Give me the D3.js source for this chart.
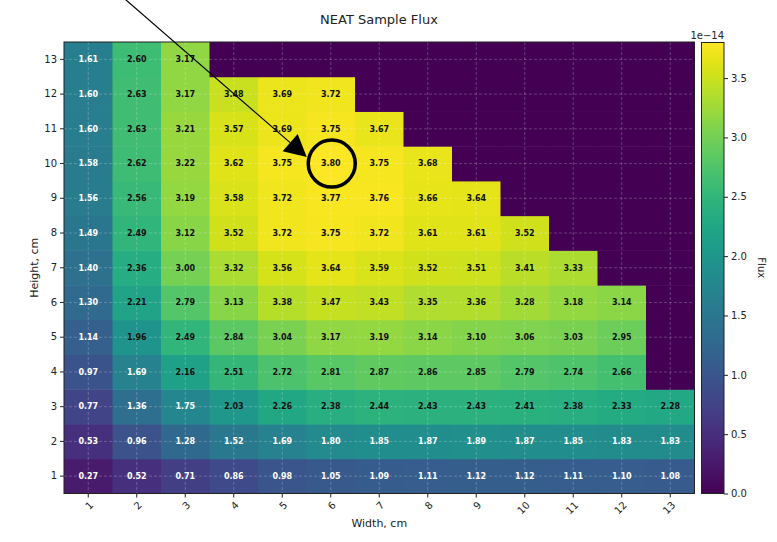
<!DOCTYPE html>
<html>
<head>
<meta charset="utf-8">
<script src="https://cdn.jsdelivr.net/npm/d3@7"></script>
<style>
  body { margin: 0; background: #fff; }
  text { font-family: "DejaVu Sans", sans-serif; }
</style>
</head>
<body>
<script>
// widths (columns) and heights (rows), cm
var widths = [1,2,3,4,5,6,7,8,9,10,11,12,13];
var heights = [1,2,3,4,5,6,7,8,9,10,11,12,13];

// flux values in units of 1e-14, one array per height (row), left to right by width
// missing cells (outside the sample) are left out of the row
var row1  = [0.27,0.52,0.71,0.86,0.98,1.05,1.09,1.11,1.12,1.12,1.11,1.10,1.08];
var row2  = [0.53,0.96,1.28,1.52,1.69,1.80,1.85,1.87,1.89,1.87,1.85,1.83,1.83];
var row3  = [0.77,1.36,1.75,2.03,2.26,2.38,2.44,2.43,2.43,2.41,2.38,2.33,2.28];
var row4  = [0.97,1.69,2.16,2.51,2.72,2.81,2.87,2.86,2.85,2.79,2.74,2.66];
var row5  = [1.14,1.96,2.49,2.84,3.04,3.17,3.19,3.14,3.10,3.06,3.03,2.95];
var row6  = [1.30,2.21,2.79,3.13,3.38,3.47,3.43,3.35,3.36,3.28,3.18,3.14];
var row7  = [1.40,2.36,3.00,3.32,3.56,3.64,3.59,3.52,3.51,3.41,3.33];
var row8  = [1.49,2.49,3.12,3.52,3.72,3.75,3.72,3.61,3.61,3.52];
var row9  = [1.56,2.56,3.19,3.58,3.72,3.77,3.76,3.66,3.64];
var row10 = [1.58,2.62,3.22,3.62,3.75,3.80,3.75,3.68];
var row11 = [1.60,2.63,3.21,3.57,3.69,3.75,3.67];
var row12 = [1.60,2.63,3.17,3.48,3.69,3.72];
var row13 = [1.61,2.60,3.17];
var rows = [row1,row2,row3,row4,row5,row6,row7,row8,row9,row10,row11,row12,row13];

var cbarTicks = [0.0,0.5,1.0,1.5,2.0,2.5,3.0,3.5];
var cbarMax = 3.80;
// highlighted cell (width, height)
var peak = {w: 6, h: 10};

var W = 777, H = 542;
var plot = {left: 64, right: 694.5, top: 42, bottom: 493.5};

var svg = d3.select("body").append("svg")
    .attr("width", W)
    .attr("height", H);

var xScale = d3.scaleBand().domain(widths).range([plot.left, plot.right]);
var yScale = d3.scaleBand().domain(heights.slice().reverse()).range([plot.top, plot.bottom]);
var color = d3.scaleSequential(d3.interpolateViridis).domain([0, cbarMax]);

// flatten into cells, empty ones get 0 (drawn as the bottom colour)
var cells = [];
heights.forEach(function(h, i) {
    widths.forEach(function(w, j) {
        var v = rows[i][j];
        cells.push({w: w, h: h, value: v === undefined ? 0 : v, empty: v === undefined});
    });
});

svg.selectAll(".cell")
    .data(cells)
    .enter()
    .append("rect")
    .attr("class", "cell")
    .attr("x", function(d) { return xScale(d.w); })
    .attr("y", function(d) { return yScale(d.h); })
    .attr("width", xScale.bandwidth() + 0.5)
    .attr("height", yScale.bandwidth() + 0.5)
    .attr("fill", function(d) { return color(d.value); });

// dashed grid at tick positions
var grid = svg.append("g").attr("class", "grid");
grid.selectAll(".gx")
    .data(widths)
    .enter()
    .append("line")
    .attr("x1", function(d) { return xScale(d) + xScale.bandwidth()/2; })
    .attr("x2", function(d) { return xScale(d) + xScale.bandwidth()/2; })
    .attr("y1", plot.top)
    .attr("y2", plot.bottom);
grid.selectAll(".gy")
    .data(heights)
    .enter()
    .append("line")
    .attr("y1", function(d) { return yScale(d) + yScale.bandwidth()/2; })
    .attr("y2", function(d) { return yScale(d) + yScale.bandwidth()/2; })
    .attr("x1", plot.left)
    .attr("x2", plot.right);
grid.selectAll("line")
    .attr("stroke", "#ffffff")
    .attr("stroke-opacity", 0.28)
    .attr("stroke-width", 0.8)
    .attr("stroke-dasharray", "3,2");

// value labels
svg.selectAll(".label")
    .data(cells.filter(function(d) { return !d.empty; }))
    .enter()
    .append("text")
    .attr("x", function(d) { return xScale(d.w) + xScale.bandwidth()/2; })
    .attr("y", function(d) { return yScale(d.h) + yScale.bandwidth()/2; })
    .attr("dy", "0.35em")
    .attr("text-anchor", "middle")
    .attr("font-size", "8px")
    .attr("font-weight", "bold")
    .attr("fill", function(d) { return d.value < 1.9 ? "#ffffff" : "#111111"; })
    .text(function(d) { return d.value.toFixed(2); });

// frame
svg.append("rect")
    .attr("x", plot.left)
    .attr("y", plot.top)
    .attr("width", plot.right - plot.left)
    .attr("height", plot.bottom - plot.top)
    .attr("fill", "none")
    .attr("stroke", "#222")
    .attr("stroke-width", 1);

// axes
var xAxis = d3.axisBottom(xScale).tickSize(4).tickPadding(3);
var yAxis = d3.axisLeft(yScale).tickSize(4).tickPadding(3);

var gx = svg.append("g")
    .attr("transform", "translate(0," + plot.bottom + ")")
    .call(xAxis);
gx.select(".domain").remove();
gx.selectAll("text")
    .attr("font-size", "10px")
    .attr("fill", "#222")
    .style("text-anchor", "end")
    .attr("dx", "-0.1em")
    .attr("dy", "0.5em")
    .attr("x", 0)
    .attr("y", 8)
    // rotate around the tick point
    .attr("transform", "translate(3,0) rotate(-45 0 8)");

var gy = svg.append("g")
    .attr("transform", "translate(" + plot.left + ",0)")
    .call(yAxis);
gy.select(".domain").remove();
gy.selectAll("text").attr("font-size", "10px").attr("fill", "#222");
svg.selectAll(".tick line").attr("stroke", "#222");

svg.append("text")
    .attr("x", (plot.left + plot.right)/2)
    .attr("y", 527)
    .attr("text-anchor", "middle")
    .attr("font-size", "11px")
    .attr("fill", "#222")
    .text("Width, cm");

svg.append("text")
    .attr("transform", "translate(38," + (plot.top + plot.bottom)/2 + ") rotate(-90)")
    .attr("text-anchor", "middle")
    .attr("font-size", "11px")
    .attr("fill", "#222")
    .text("Height, cm");

svg.append("text")
    .attr("x", 379)
    .attr("y", 24)
    .attr("text-anchor", "middle")
    .attr("font-size", "13px")
    .attr("fill", "#222")
    .text("NEAT Sample Flux");

// colorbar
var cb = {left: 701.5, width: 22.5};
var cScale = d3.scaleLinear().domain([0, cbarMax]).range([plot.bottom, plot.top + 0.5]);

var defs = svg.append("defs");
var grad = defs.append("linearGradient")
    .attr("id", "cbgrad")
    .attr("x1", "0%").attr("y1", "100%")
    .attr("x2", "0%").attr("y2", "0%");
d3.range(0, 1.0001, 0.02).forEach(function(t) {
    grad.append("stop")
        .attr("offset", (t*100) + "%")
        .attr("stop-color", d3.interpolateViridis(t));
});

svg.append("rect")
    .attr("x", cb.left)
    .attr("y", cScale(cbarMax))
    .attr("width", cb.width)
    .attr("height", cScale(0) - cScale(cbarMax))
    .attr("fill", "url(#cbgrad)")
    .attr("stroke", "#222")
    .attr("stroke-width", 1);

var cAxis = d3.axisRight(cScale)
    .tickValues(cbarTicks)
    .tickFormat(d3.format(".1f"))
    .tickSize(4)
    .tickPadding(3);
var gc = svg.append("g")
    .attr("transform", "translate(" + (cb.left + cb.width) + ",0)")
    .call(cAxis);
gc.select(".domain").remove();
gc.selectAll("text").attr("font-size", "10px").attr("fill", "#222");
gc.selectAll(".tick line").attr("stroke", "#222");

svg.append("text")
    .attr("x", cb.left + cb.width)
    .attr("y", 39)
    .attr("text-anchor", "end")
    .attr("font-size", "10px")
    .attr("fill", "#222")
    .text("1e\u221214");

svg.append("text")
    .attr("transform", "translate(758," + (plot.top + plot.bottom)/2 + ") rotate(90)")
    .attr("text-anchor", "middle")
    .attr("font-size", "10px")
    .attr("fill", "#222")
    .text("Flux");

// annotation: circle round the peak cell and arrow pointing to it
var cx = xScale(peak.w) + xScale.bandwidth()/2;
var cy = yScale(peak.h) + yScale.bandwidth()/2;

svg.append("circle")
    .attr("cx", cx + 1)
    .attr("cy", cy)
    .attr("r", 23.5)
    .attr("fill", "none")
    .attr("stroke", "#000")
    .attr("stroke-width", 3.5);

var tip = [cx - 24, cy - 6.5];
var start = [cx - 207, -2];
var dx = tip[0] - start[0], dy = tip[1] - start[1];
var len = Math.sqrt(dx*dx + dy*dy);
var ux = dx/len, uy = dy/len;
var headLen = 22, headW = 11.5;
var base = [tip[0] - ux*headLen, tip[1] - uy*headLen];

svg.append("line")
    .attr("x1", start[0]).attr("y1", start[1])
    .attr("x2", base[0]).attr("y2", base[1])
    .attr("stroke", "#000")
    .attr("stroke-width", 1.2);

svg.append("path")
    .attr("d", "M" + tip[0] + "," + tip[1] +
        "L" + (base[0] - uy*headW) + "," + (base[1] + ux*headW) +
        "L" + (base[0] + uy*headW) + "," + (base[1] - ux*headW) + "Z")
    .attr("fill", "#000");
</script>
</body>
</html>
